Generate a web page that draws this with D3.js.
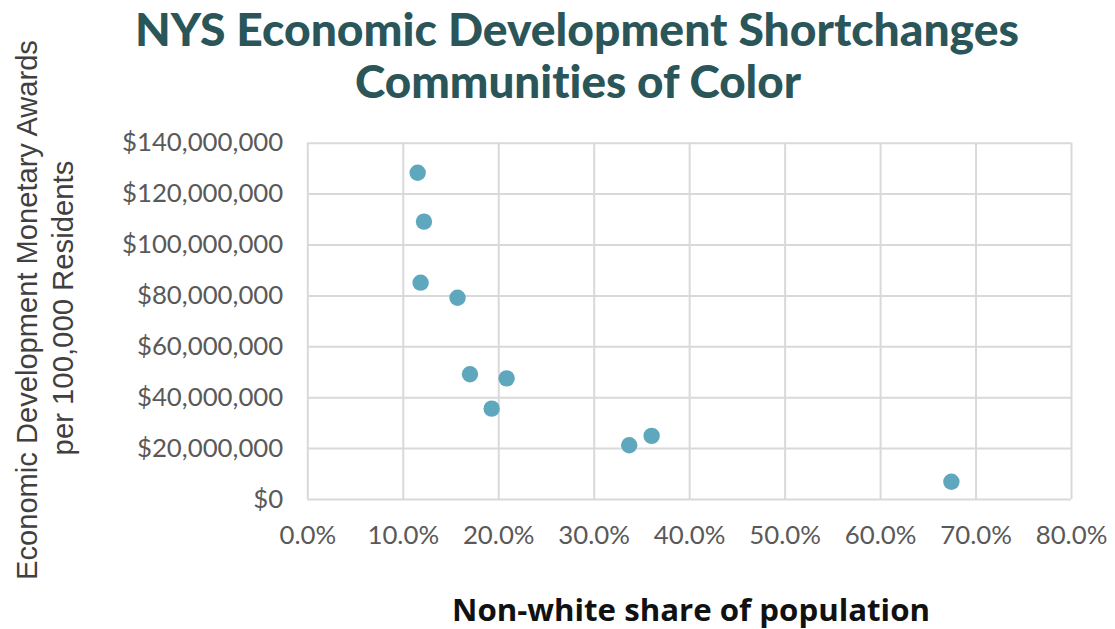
<!DOCTYPE html>
<html>
<head>
<meta charset="utf-8">
<script src="https://cdn.jsdelivr.net/npm/d3@7"></script>
<style>
  html, body { margin: 0; padding: 0; background: #ffffff; }
  svg { display: block; }
  text { font-variant-ligatures: none; font-feature-settings: "liga" 0; }
</style>
</head>
<body>
<svg id="chart" width="1115" height="629"></svg>
<script>
// ---- Data ----
const nonWhiteShare = [0.1156, 0.1222, 0.1187, 0.1574, 0.1704, 0.2088, 0.1931, 0.3372, 0.3607, 0.6747];
const awardsPer100k = [128200000, 109000000, 85000000, 79100000, 49000000, 47400000, 35500000, 21100000, 24800000, 6800000];
const xTicks = [0, 0.1, 0.2, 0.3, 0.4, 0.5, 0.6, 0.7, 0.8];
const yTicks = [0, 20000000, 40000000, 60000000, 80000000, 100000000, 120000000, 140000000];
const titleLines = ["NYS Economic Development Shortchanges", "Communities of Color"];
const yTitleLines = ["Economic Development Monetary Awards", "per 100,000 Residents"];
const xTitle = "Non-white share of population";

const svg = d3.select("#chart");
const plot = { left: 307.3, right: 1071, top: 142.7, bottom: 499 };

const x = d3.scaleLinear().domain([0, 0.8]).range([plot.left, plot.right]);
const y = d3.scaleLinear().domain([0, 140000000]).range([plot.bottom, plot.top]);

function fit(sel, target) {
  const node = sel.node();
  const fs = parseFloat(sel.attr("font-size"));
  const w = node.getComputedTextLength();
  if (w > 0) sel.attr("font-size", fs * target / w);
  return sel;
}

const gridColor = "#d9d9d9";
const labelColor = "#595959";

// Horizontal grid + y axis labels
const yAxis = d3.axisLeft(y)
  .tickValues(yTicks)
  .tickSizeInner(-(plot.right - plot.left))
  .tickSizeOuter(0)
  .tickPadding(24)
  .tickFormat(d => "$" + d3.format(",")(d));
const gy = svg.append("g")
  .attr("transform", `translate(${plot.left},0)`)
  .call(yAxis);
gy.select(".domain").remove();
gy.selectAll(".tick line").attr("stroke", gridColor).attr("stroke-width", 2);
gy.selectAll(".tick text")
  .attr("fill", labelColor)
  .attr("font-family", "Lato, 'Open Sans', sans-serif")
  .attr("font-size", 25.8);

// Vertical grid + x axis labels
const xAxis = d3.axisBottom(x)
  .tickValues(xTicks)
  .tickSizeInner(-(plot.bottom - plot.top))
  .tickSizeOuter(0)
  .tickPadding(27)
  .tickFormat(d3.format(".1%"));
const gx = svg.append("g")
  .attr("transform", `translate(0,${plot.bottom})`)
  .call(xAxis);
gx.select(".domain").remove();
gx.selectAll(".tick line").attr("stroke", gridColor).attr("stroke-width", 2);
gx.selectAll(".tick text")
  .attr("fill", labelColor)
  .attr("font-family", "Lato, 'Open Sans', sans-serif")
  .attr("font-size", 25.8);

// Points
const pts = nonWhiteShare.map((s, i) => ({ s, v: awardsPer100k[i] }));
svg.append("g").selectAll("circle")
  .data(pts)
  .join("circle")
  .attr("cx", d => x(d.s))
  .attr("cy", d => y(d.v))
  .attr("r", 8.2)
  .attr("fill", "#5fa7bd");

// Title
const t1 = svg.append("text")
  .attr("x", 577).attr("y", 46)
  .attr("text-anchor", "middle")
  .attr("font-family", "Lato, sans-serif")
  .attr("font-weight", 900)
  .attr("font-size", 34)
  .attr("fill", "#2b5659")
  .text(titleLines[0]);
fit(t1, 884);
const t2 = svg.append("text")
  .attr("x", 578).attr("y", 98)
  .attr("text-anchor", "middle")
  .attr("font-family", "Lato, sans-serif")
  .attr("font-weight", 900)
  .attr("font-size", 34)
  .attr("fill", "#2b5659")
  .text(titleLines[1]);
fit(t2, 446);

// Y axis title (rotated)
const yt1 = svg.append("text")
  .attr("transform", "translate(37,310) rotate(-90)")
  .attr("text-anchor", "middle")
  .attr("font-family", "'Liberation Sans', Arial, sans-serif")
  .attr("font-size", 24)
  .attr("fill", "#404040")
  .text(yTitleLines[0]);
fit(yt1, 540);
const yt2 = svg.append("text")
  .attr("transform", "translate(73,308) rotate(-90)")
  .attr("text-anchor", "middle")
  .attr("font-family", "'Liberation Sans', Arial, sans-serif")
  .attr("font-size", 24)
  .attr("fill", "#404040")
  .text(yTitleLines[1]);
fit(yt2, 295);

// X axis title
const xt = svg.append("text")
  .attr("x", 691).attr("y", 621)
  .attr("text-anchor", "middle")
  .attr("font-family", "'Open Sans', 'Noto Sans', sans-serif")
  .attr("font-weight", 700)
  .attr("font-size", 28)
  .attr("fill", "#111111")
  .text(xTitle);
fit(xt, 478);
</script>
</body>
</html>
